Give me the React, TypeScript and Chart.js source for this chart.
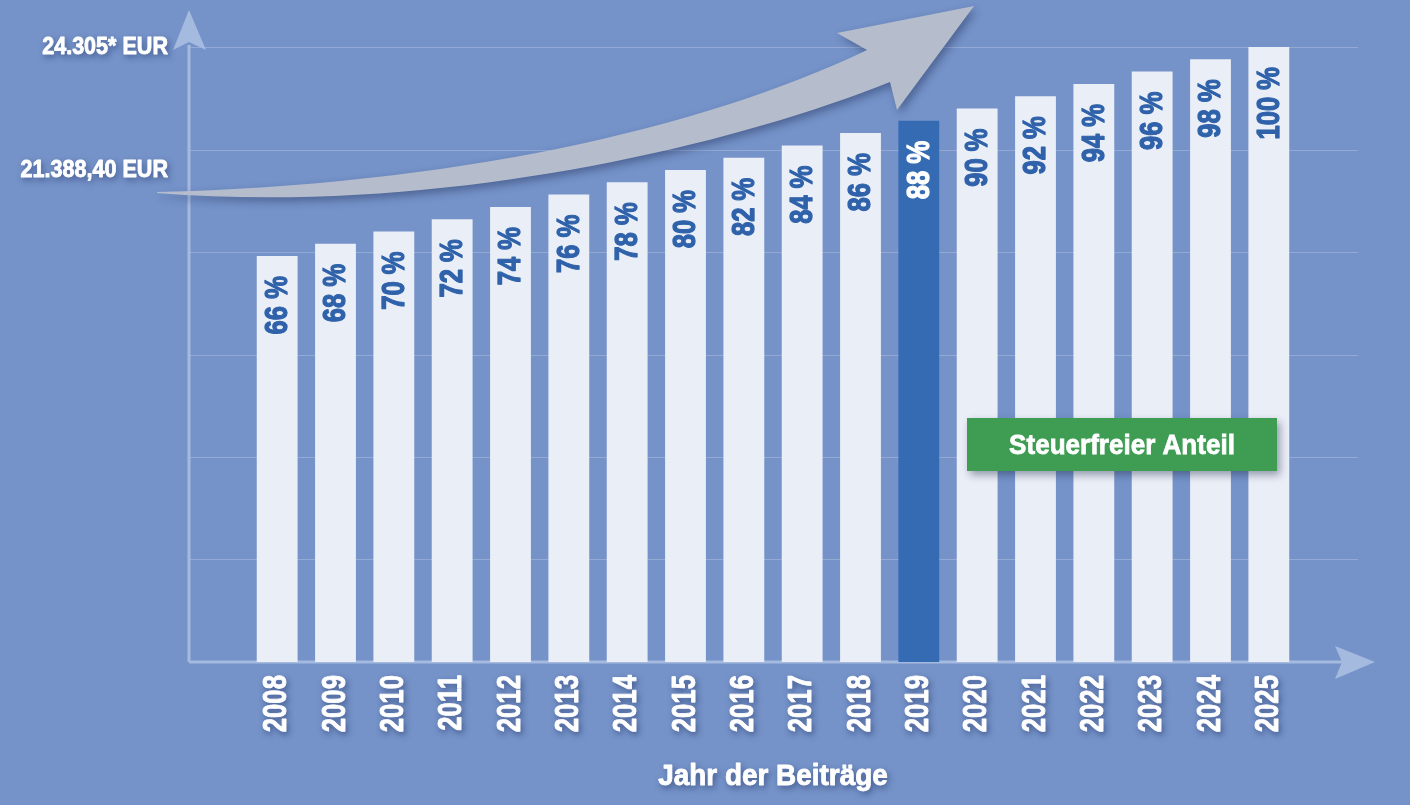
import React, { useEffect, useRef } from 'react';
import { Chart, registerables } from 'chart.js';

Chart.register(...registerables);

// ---- data ----
const years = ['2008', '2009', '2010', '2011', '2012', '2013', '2014', '2015', '2016', '2017', '2018', '2019', '2020', '2021', '2022', '2023', '2024', '2025'];
const taxFreeShare = [66, 68, 70, 72, 74, 76, 78, 80, 82, 84, 86, 88, 90, 92, 94, 96, 98, 100];
const highlightYear = '2019';
const yTickValues = [100, 80];
const yTickLabels = ['24.305* EUR', '21.388,40 EUR'];
const gridValues = [100, 83.33, 66.67, 50, 33.33, 16.67];
const xAxisTitle = 'Jahr der Beiträge';
const badgeText = 'Steuerfreier Anteil';

// ---- style ----
const FONT = "'Liberation Sans', Arial, sans-serif";
const BG = '#7593c9';
const BAR = '#eaeef7';
const BAR_HI = '#356bb2';
const LABEL_BLUE = '#2f62aa';
const AXIS = '#a5badf';
const ARROW = '#b5bdcc';
const GREEN = '#3e9d53';

// horizontal condensing factors (the original uses a condensed typeface)
function condenseFor(text: string) {
  if (/^\d{4}$/.test(text)) return 0.78;
  if (text === xAxisTitle) return 0.93;
  return 0.88;
}

const decorPlugin = {
  id: 'decor',
  beforeDraw(chart: any) {
    const { ctx, chartArea, scales } = chart;
    const y = scales.y;
    ctx.save();
    ctx.fillStyle = '#ffffff';
    ctx.fillRect(0, 0, chart.width, chart.height);
    ctx.fillStyle = BG;
    ctx.fillRect(0, 0, chart.width - 4, chart.height);
    const axisX = chartArea.left - 59;
    const base = y.getPixelForValue(0);
    // grid lines
    ctx.strokeStyle = 'rgba(255,255,255,0.22)';
    ctx.lineWidth = 1;
    gridValues.forEach((v) => {
      const py = Math.round(y.getPixelForValue(v)) + 0.5;
      ctx.beginPath();
      ctx.moveTo(axisX, py);
      ctx.lineTo(chartArea.right + 60, py);
      ctx.stroke();
    });
    // axes
    ctx.strokeStyle = AXIS;
    ctx.fillStyle = AXIS;
    ctx.lineWidth = 3;
    ctx.beginPath();
    ctx.moveTo(axisX, base);
    ctx.lineTo(axisX, 45);
    ctx.stroke();
    ctx.beginPath();
    ctx.moveTo(axisX, base);
    ctx.lineTo(chartArea.right + 48, base);
    ctx.stroke();
    // y arrowhead
    ctx.beginPath();
    ctx.moveTo(axisX, 10);
    ctx.lineTo(axisX + 17, 50);
    ctx.lineTo(axisX, 42);
    ctx.lineTo(axisX - 16, 50);
    ctx.closePath();
    ctx.fill();
    // x arrowhead
    const tipX = chartArea.right + 77;
    ctx.beginPath();
    ctx.moveTo(tipX, base);
    ctx.lineTo(tipX - 40, base - 16);
    ctx.lineTo(tipX - 33, base);
    ctx.lineTo(tipX - 40, base + 17);
    ctx.closePath();
    ctx.fill();
    ctx.restore();
    // text shadow + condensed rendering for the axis labels drawn by the scales
    ctx.shadowColor = 'rgba(20,35,85,0.6)';
    ctx.shadowBlur = 6;
    ctx.shadowOffsetX = 2;
    ctx.shadowOffsetY = 3;
    const orig = CanvasRenderingContext2D.prototype.fillText;
    const origStroke = CanvasRenderingContext2D.prototype.strokeText;
    ctx.fillText = function (text: string, x: number, yy: number) {
      const k = condenseFor(String(text));
      this.save();
      this.translate(x, yy);
      this.scale(k, 1);
      orig.call(this, text, 0, 0);
      this.shadowColor = 'rgba(0,0,0,0)';
      this.strokeStyle = this.fillStyle;
      this.lineWidth = 0.9;
      this.lineJoin = 'round';
      origStroke.call(this, text, 0, 0);
      this.restore();
    };
  },
  beforeDatasetsDraw(chart: any) {
    const { ctx } = chart;
    delete ctx.fillText;
    ctx.shadowColor = 'rgba(0,0,0,0)';
    ctx.shadowBlur = 0;
    ctx.shadowOffsetX = 0;
    ctx.shadowOffsetY = 0;
  },
  afterDatasetsDraw(chart: any) {
    const { ctx } = chart;
    const meta = chart.getDatasetMeta(0);
    ctx.save();
    ctx.font = `bold 32px ${FONT}`;
    ctx.textAlign = 'right';
    ctx.textBaseline = 'middle';
    ctx.lineJoin = 'round';
    meta.data.forEach((bar: any, i: number) => {
      ctx.save();
      ctx.translate(bar.x, bar.y + 20);
      ctx.rotate(-Math.PI / 2);
      ctx.scale(0.8, 1);
      const c = years[i] === highlightYear ? '#ffffff' : LABEL_BLUE;
      ctx.fillStyle = c;
      ctx.strokeStyle = c;
      ctx.lineWidth = 1.3;
      ctx.fillText(`${taxFreeShare[i]} %`, 0, 1);
      ctx.strokeText(`${taxFreeShare[i]} %`, 0, 1);
      ctx.restore();
    });
    ctx.restore();

    // big curved arrow
    ctx.save();
    ctx.shadowColor = 'rgba(20,30,70,0.4)';
    ctx.shadowBlur = 8;
    ctx.shadowOffsetX = 3;
    ctx.shadowOffsetY = 4;
    ctx.fillStyle = ARROW;
    ctx.beginPath();
    ctx.moveTo(157, 192);
    ctx.bezierCurveTo(450, 185, 700, 130, 867, 50);
    ctx.lineTo(837, 33);
    ctx.lineTo(974, 6);
    ctx.lineTo(897, 110);
    ctx.lineTo(890, 82);
    ctx.bezierCurveTo(720, 150, 430, 215, 157, 193);
    ctx.closePath();
    ctx.fill();
    ctx.restore();

    // badge
    ctx.save();
    ctx.shadowColor = 'rgba(20,30,60,0.4)';
    ctx.shadowBlur = 8;
    ctx.shadowOffsetX = 3;
    ctx.shadowOffsetY = 4;
    ctx.fillStyle = GREEN;
    ctx.fillRect(967, 418, 310, 53);
    ctx.restore();
    ctx.save();
    ctx.fillStyle = '#ffffff';
    ctx.strokeStyle = '#ffffff';
    ctx.lineWidth = 0.8;
    ctx.font = `bold 28px ${FONT}`;
    ctx.textAlign = 'center';
    ctx.textBaseline = 'middle';
    ctx.translate(1122, 446);
    ctx.scale(0.93, 1);
    ctx.fillText(badgeText, 0, 0);
    ctx.strokeText(badgeText, 0, 0);
    ctx.restore();
  },
};

export default function App() {
  const ref = useRef<HTMLCanvasElement | null>(null);
  useEffect(() => {
    if (!ref.current) return;
    const chart = new Chart(ref.current, {
      type: 'bar',
      data: {
        labels: years,
        datasets: [
          {
            data: taxFreeShare,
            backgroundColor: years.map((y) => (y === highlightYear ? BAR_HI : BAR)),
            borderWidth: 0,
            barPercentage: 0.7,
            categoryPercentage: 1.0,
          },
        ],
      },
      options: {
        animation: false,
        responsive: true,
        maintainAspectRatio: false,
        layout: { padding: { left: 0, right: 116, top: 47, bottom: 0 } },
        plugins: { legend: { display: false }, tooltip: { enabled: false } },
        scales: {
          x: {
            grid: { display: false, drawTicks: false },
            border: { display: false },
            ticks: {
              color: '#ffffff',
              font: { family: FONT, size: 33, weight: 'bold' },
              minRotation: 90,
              maxRotation: 90,
              padding: 13,
              autoSkip: false,
            },
            title: {
              display: true,
              text: xAxisTitle,
              color: '#ffffff',
              font: { family: FONT, size: 30, weight: 'bold' },
              padding: { top: 0, bottom: 10 },
            },
            afterFit: (s: any) => {
              s.height = 143;
              s.paddingLeft = 0;
              s.paddingRight = 0;
            },
          },
          y: {
            min: 0,
            max: 100,
            grid: { display: false, drawTicks: false },
            border: { display: false },
            afterBuildTicks: (s: any) => {
              s.ticks = yTickValues.map((v) => ({ value: v }));
            },
            ticks: {
              color: '#ffffff',
              font: { family: FONT, size: 24.5, weight: 'bold' },
              padding: 80,
              autoSkip: false,
              callback: (v: any) => {
                const i = yTickValues.indexOf(Number(v));
                return i >= 0 ? yTickLabels[i] : '';
              },
            },
            afterFit: (s: any) => {
              s.width = 248;
              s.paddingTop = 0;
              s.paddingBottom = 0;
            },
          },
        },
      },
      plugins: [decorPlugin],
    } as any);
    return () => chart.destroy();
  }, []);
  return (
    <div style={{ position: 'fixed', left: 0, top: 0, width: 1414, height: 805 }}>
      <canvas ref={ref} />
    </div>
  );
}
